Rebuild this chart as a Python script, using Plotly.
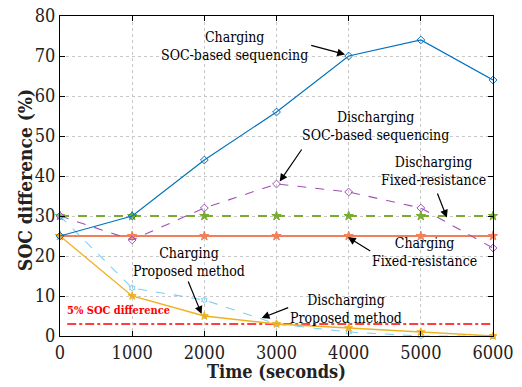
import plotly.graph_objects as go

time_s = [0, 1000, 2000, 3000, 4000, 5000, 6000]
chg_soc_seq = [25, 30, 44, 56, 70, 74, 64]
dis_soc_seq = [30, 24, 32, 38, 36, 32, 22]
dis_fixed = [30, 30, 30, 30, 30, 30, 30]
chg_fixed = [25, 25, 25, 25, 25, 25, 25]
chg_proposed = [25, 10, 5, 3, 2, 1, 0]
dis_proposed = [30, 12, 9, 3, 1, 0, 0]
threshold_x = [100, 6000]
threshold_y = [3, 3]

FONT = "DejaVu Serif Condensed"

fig = go.Figure()

def add(y, color, dash, symbol, width=1.2, msize=6):
    fig.add_trace(go.Scatter(
        x=time_s, y=y, mode="lines+markers",
        line=dict(color=color, width=width, dash=dash),
        marker=dict(symbol=symbol, size=msize, color=color,
                    line=dict(color=color, width=1)),
        showlegend=False, cliponaxis=False))

fig.add_trace(go.Scatter(x=threshold_x, y=threshold_y, mode="lines",
                         line=dict(color="red", width=1.3, dash="dashdot"),
                         showlegend=False))
add(dis_fixed, "#77AC30", "dash", "star", width=2.2, msize=7)
add(chg_fixed, "#F0805A", "solid", "star", width=2.2, msize=7)
add(dis_proposed, "#7FCFF0", "dash", "hexagram-open", width=1.1, msize=5)
add(chg_proposed, "#EDB120", "solid", "star", width=1.3, msize=6)
add(dis_soc_seq, "#A050B5", "dash", "diamond-open", width=1.1, msize=6)
add(chg_soc_seq, "#0072BD", "solid", "diamond-open", width=1.2, msize=6)

ann_font = dict(family=FONT, size=14, color="black")

def label(x, y, text):
    fig.add_annotation(x=x, y=y, xref="x", yref="y", text=text,
                       showarrow=False, font=ann_font, align="center")

def arrow(x0, y0, x1, y1):
    fig.add_annotation(x=x1, y=y1, ax=x0, ay=y0, xref="x", yref="y",
                       axref="x", ayref="y", text="", showarrow=True,
                       arrowhead=2, arrowsize=1.3, arrowwidth=1.2,
                       arrowcolor="black")

label(2420, 72.5, "Charging<br>SOC-based sequencing")
arrow(3460, 72.75, 3950, 70.4)
label(4376, 52.4, "Discharging<br>SOC-based sequencing")
arrow(3363, 47, 3044, 38.6)
label(5180, 41.25, "Discharging<br>Fixed-resistance")
arrow(5222, 36, 5361, 29.6)
label(5055, 21.1, "Charging<br>Fixed-resistance")
arrow(4320, 21, 3990, 24.7)
label(1782, 18.4, "Charging<br>Proposed method")
arrow(1768, 14, 1962, 5.5)
label(3960, 6.75, "Discharging<br>Proposed method")
arrow(3183, 7.25, 2795, 4.5)

fig.add_annotation(x=811, y=6.5, xref="x", yref="y", text="<b>5% SOC difference</b>",
                   showarrow=False, font=dict(family=FONT, size=11, color="red"))

# axis titles
fig.add_annotation(x=0.5, y=-0.11, xref="paper", yref="paper",
                   text="<b>Time (seconds)</b>", showarrow=False,
                   xanchor="center", yanchor="middle",
                   font=dict(family=FONT, size=18, color="#222222"))
fig.add_annotation(x=-0.081, y=0.4875, xref="paper", yref="paper",
                   text="<b>SOC difference (%)</b>", showarrow=False,
                   textangle=-90, xanchor="center", yanchor="middle",
                   font=dict(family=FONT, size=19, color="#222222"))

axis_common = dict(
    showline=True, linecolor="black", linewidth=1, mirror="ticks",
    ticks="inside", ticklen=5, tickcolor="black",
    showgrid=True, gridcolor="#C8C8C8", griddash="dot", gridwidth=1,
    zeroline=False, automargin=False, ticklabeloverflow="allow",
    tickfont=dict(family=FONT, size=18, color="#222222"),
)

fig.update_xaxes(range=[0, 6000], tickvals=time_s,
                 tickprefix="<b>", ticksuffix="</b>", **axis_common)
fig.update_yaxes(range=[0, 80], tickvals=[0, 10, 20, 30, 40, 50, 60, 70, 80],
                 tickprefix="<b>", ticksuffix="</b>", **axis_common)

fig.update_layout(width=522, height=387, font=dict(family=FONT),
                  margin=dict(l=60, r=29, t=16, b=51),
                  plot_bgcolor="white", paper_bgcolor="white")

fig.write_html("out.html", config={"displayModeBar": False},
               post_script="document.body.style.margin='0';document.body.style.padding='0';")
